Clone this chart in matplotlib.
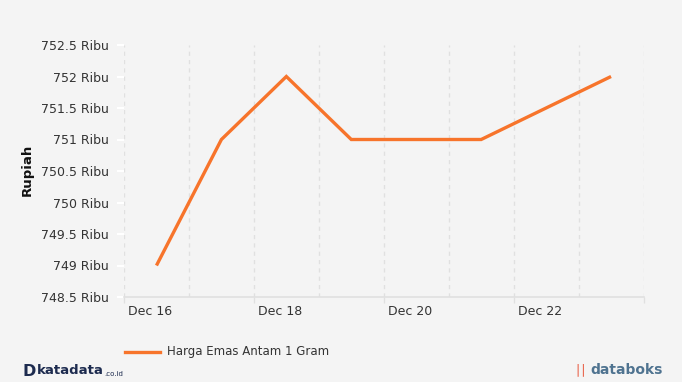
import matplotlib
matplotlib.use("Agg")
import matplotlib.pyplot as plt
import matplotlib.transforms as mtrans
import numpy as np

# data (harga dalam ribu rupiah)
days = [16, 17, 18, 19, 20, 21, 22, 23]
harga = [749, 751, 752, 751, 751, 751, 751.5, 752]
yticks = [748.5, 749, 749.5, 750, 750.5, 751, 751.5, 752, 752.5]
xtick_days = [16, 18, 20, 22]

BG = "#f4f4f4"
ORANGE = "#f7742b"
TXT = "#333333"
GRID = "#e0e0e0"

fig = plt.figure(figsize=(6.82, 3.82), dpi=100, facecolor=BG)
W, H = 682, 382
ax = fig.add_axes([124 / W, 1 - 297 / H, (643.5 - 124) / W, (297 - 45) / H])
ax.set_facecolor(BG)

ax.plot(days, harga, color=ORANGE, linewidth=2.4, solid_capstyle="butt",
        solid_joinstyle="miter", label="Harga Emas Antam 1 Gram", zorder=3)

ax.set_xlim(days[0] - 0.5, days[-1] + 0.5)
ax.set_ylim(yticks[0], yticks[-1])

# vertical dashed grid at every day boundary
for b in np.arange(days[0] - 0.5, days[-1] + 1.0, 1.0):
    ax.axvline(b, color=GRID, linestyle=(0, (3, 3)), linewidth=1, zorder=1)

for s in ["top", "right", "left"]:
    ax.spines[s].set_visible(False)
ax.spines["bottom"].set_color(GRID)
ax.spines["bottom"].set_linewidth(1.2)

ax.set_yticks(yticks)
ax.set_yticklabels([f"{v:g} Ribu" for v in yticks], fontsize=9, color=TXT)
ax.tick_params(axis="y", length=5, color="#ffffff", width=1.5, pad=6)

ax.set_xticks([d - 0.5 for d in xtick_days] + [days[-1] + 0.5])
ax.set_xticklabels([f"Dec {d}" for d in xtick_days] + [""], fontsize=9,
                   color=TXT, ha="left")
ax.tick_params(axis="x", length=4.5, color=GRID, width=1, pad=1.5)
offset = mtrans.ScaledTranslation(4 / 100, 0, fig.dpi_scale_trans)
for lab in ax.get_xticklabels():
    lab.set_transform(lab.get_transform() + offset)

fig.text(27 / W, 1 - 170 / H, "Rupiah", rotation=90, fontsize=9.5,
         fontweight="bold", color="#111111", ha="center", va="center")

# legend
fig.add_artist(plt.Line2D([125 / W, 160 / W], [1 - 352 / H, 1 - 352 / H],
                          color=ORANGE, linewidth=2.4, transform=fig.transFigure))
fig.text(167 / W, 1 - 352 / H, "Harga Emas Antam 1 Gram", fontsize=8.5,
         color=TXT, ha="left", va="center")

# logos (text approximations)
fig.text(22 / W, 1 - 371 / H, "D", fontsize=11.5, fontweight="bold",
         color="#1d2b4f", ha="left", va="center")
fig.text(37 / W, 1 - 371 / H, "katadata", fontsize=9.5, fontweight="bold",
         color="#1d2b4f", ha="left", va="center")
fig.text(104 / W, 1 - 374 / H, ".co.id", fontsize=5, color="#1d2b4f",
         ha="left", va="center")
fig.text(574 / W, 1 - 370 / H, "\u2223\u2223", fontsize=9, color="#e8553a",
         ha="left", va="center")
fig.text(590 / W, 1 - 370 / H, "databoks", fontsize=10, fontweight="bold",
         color="#4f7390", ha="left", va="center")

fig.savefig("out.png", dpi=100, facecolor=BG)
